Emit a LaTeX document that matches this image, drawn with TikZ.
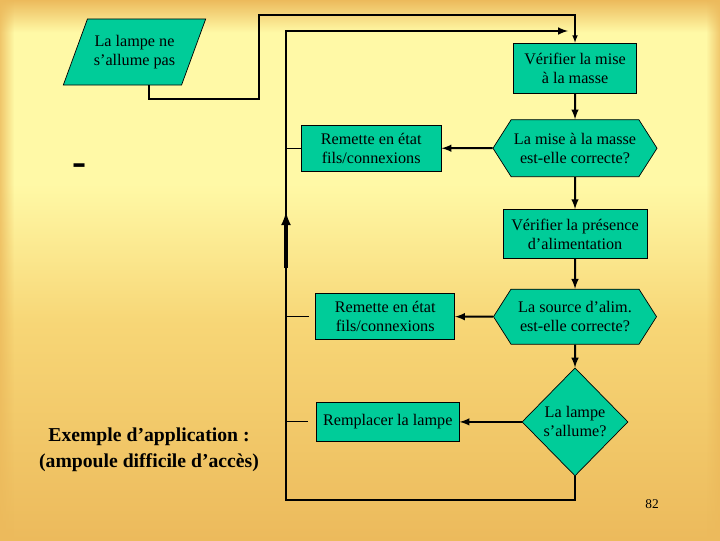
\documentclass[tikz,border=0pt]{standalone}
\usepackage{fontspec}
\setmainfont{Liberation Serif}
\usepackage{xcolor}
\usepackage{tikz}
\usetikzlibrary{shapes,arrows,positioning,calc,fadings}
\definecolor{boxgreen}{RGB}{0,204,153}
\definecolor{slideorange}{RGB}{236,186,92}
\definecolor{slidemid}{RGB}{247,214,118}
\definecolor{slideyellow}{RGB}{255,249,166}
\pgfdeclareverticalshading{slidebg}{100bp}{color(0bp)=(slideorange); color(25bp)=(slideorange); color(45bp)=(slidemid); color(58bp)=(slideyellow); color(72bp)=(slideyellow); color(75bp)=(slideorange); color(100bp)=(slideorange)}

\begin{document}
\begin{tikzpicture}[x=0.025cm, y=-0.025cm, >=latex, font=\fontsize{11.5}{13.5}\selectfont]
        \tikzset{
            block/.style={draw, fill=boxgreen, rectangle, align=center, line width=0.5pt, inner sep=1pt},
            test/.style={draw, fill=boxgreen, signal, signal to=west and east, signal pointer angle=115, align=center, line width=0.5pt, inner sep=0pt},
            decision/.style={draw, fill=boxgreen, diamond, align=center, line width=0.5pt, inner sep=0pt},
            entree/.style={draw, fill=boxgreen, trapezium, trapezium left angle=59.4, trapezium right angle=120.6, trapezium stretches=true, align=center, line width=0.5pt, inner sep=1pt},
            flow/.style={line width=1.4pt},
            thinline/.style={line width=0.8pt},
        }

        % Background of the slide
        \shade [shading=slidebg] (0,0) rectangle (720,540);
        \fill [slideorange, path fading=east, opacity=0.8] (0,0) rectangle (14,540);
        \fill [slideorange, path fading=west, opacity=0.8] (706,0) rectangle (720,540);

        % Start
        \node [entree, minimum width=3.575cm, minimum height=1.65cm] (panne) at (134.5,52) {La lampe ne\\s’allume pas};

        % Main column
        \node [block, minimum width=3.075cm, minimum height=1.25cm] (verif1) at (575,68) {Vérifier la mise\\à la masse};
        \node [test, minimum width=4.1cm, minimum height=1.425cm, below=0.65cm of verif1] (mise) {La mise à la masse\\est-elle correcte?};
        \node [block, minimum width=3.6cm, minimum height=1.225cm, below=0.8cm of mise] (verif2) {Vérifier la présence\\d’alimentation};
        \node [test, minimum width=4.075cm, minimum height=1.375cm, below=0.75cm of verif2] (source) {La source d’alim.\\est-elle correcte?};
        \node [decision, minimum width=2.65cm, minimum height=2.7cm, below=0.575cm of source] (allume) {La lampe\\s’allume?};

        % Repairs
        \node [block, minimum width=3.5cm, minimum height=1.15cm, left=1.275cm of mise] (fils1) {Remette en état\\fils/connexions};
        \node [block, minimum width=3.475cm, minimum height=1.15cm, left=0.95cm of source] (fils2) {Remette en état\\fils/connexions};
        \node [block, minimum width=3.575cm, minimum height=0.975cm, left=1.55cm of allume] (lampe) {Remplacer la lampe};

        % Labels
        \node [font=\bfseries\fontsize{30}{30}\selectfont] (tiret) at (80,170) {-};
        \node [align=center, font=\bfseries\fontsize{14}{18.4}\selectfont] (exemple) at (149,450) {Exemple d’application :\\(ampoule difficile d’accès)};
        \node [font=\fontsize{9.5}{9.5}\selectfont] (page) at (652,504) {82};

        % Start connector
        \coordinate (pout) at ($(panne.south)+(14.5,0)$);
        \coordinate (bend) at (259,99);
        \coordinate (ytop) at (0,15);
        \draw [thinline, ->] (pout) |- (bend) |- (verif1.north |- ytop) -- (verif1.north);

        % Connections
        \draw [flow, ->] (verif1) -- (mise);
        \draw [flow, ->] (mise) -- (fils1);
        \draw [flow, ->] (mise) -- (verif2);
        \draw [flow, ->] (verif2) -- (source);
        \draw [flow, ->] (source) -- (fils2);
        \draw [flow, ->] (source) -- (allume);
        \draw [flow, ->] (allume) -- (lampe);

        % Return loop
        \coordinate (loopbl) at (286,500);
        \coordinate (looptl) at (286,31);
        \coordinate (loopend) at (568,31);
        \coordinate (uptip) at (286,212);
        \coordinate (upfoot) at (286,268);
        \draw [flow, ->] (allume.south) |- (loopbl) -- (looptl) -- (loopend);
        \draw [flow, line width=2.2pt, ->] (upfoot) -- (uptip);

        % Stubs to the loop
        \draw [thinline] (looptl |- fils1.west) -- (fils1.west);
        \draw [thinline] (looptl |- fils2.west) -- ([xshift=-0.15cm]fils2.west);
        \draw [thinline] (looptl |- lampe.west) -- ([xshift=-0.2cm]lampe.west);
    \end{tikzpicture}
\end{document}
